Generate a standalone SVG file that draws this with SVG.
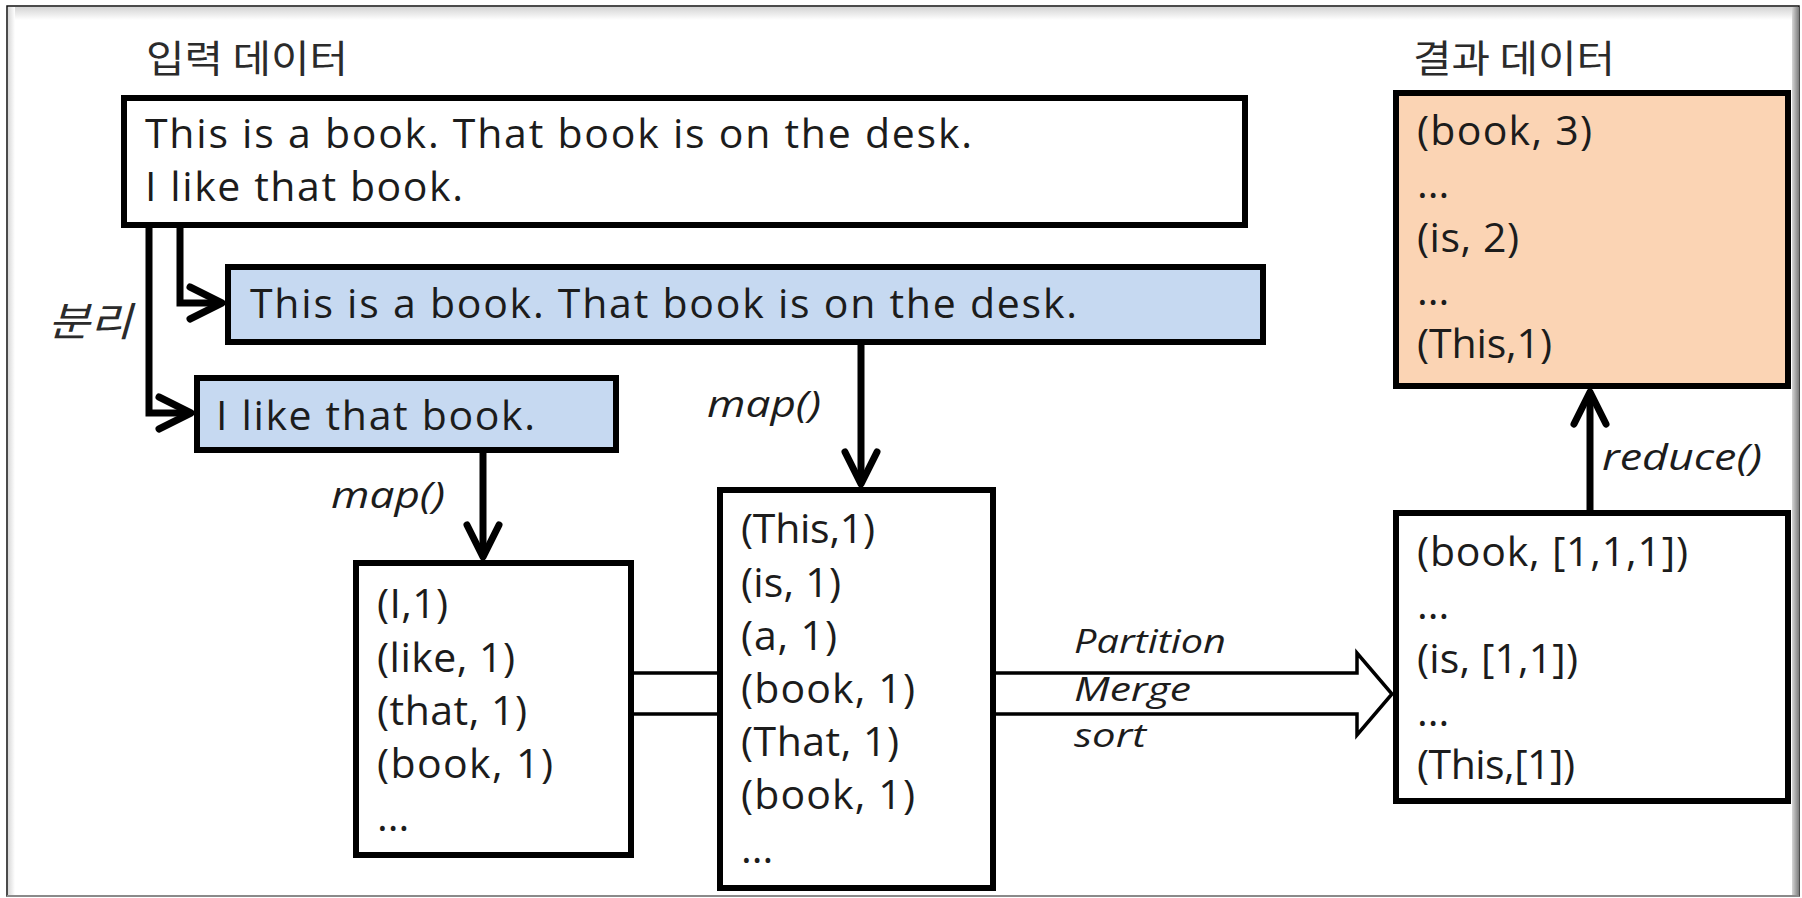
<svg xmlns="http://www.w3.org/2000/svg" width="1802" height="898" viewBox="0 0 1802 898">
  <defs>
    <style>
      .t { font-family: 'Open Sans', 'Noto Sans', 'Liberation Sans', sans-serif; font-size: 41px; fill: #1c1c1c; }
      .lab { font-family: 'Open Sans', 'Noto Sans', 'Liberation Sans', sans-serif; font-style: italic; font-size: 36px; fill: #1c1c1c; }
      .step { font-size: 33px; }
      .ko { font-family: 'Noto Sans CJK KR', sans-serif; font-size: 38px; fill: #2b2b2b; }
      .ko-i { font-family: 'Noto Sans CJK KR', sans-serif; font-size: 40px; font-style: italic; fill: #2b2b2b; }
      .box { stroke: #000; stroke-width: 6; }
      .plain { fill: #fff; }
      .split { fill: #c6d9f1; }
      .result { fill: #fbd4b4; }
      .conn { fill: none; stroke: #000; stroke-width: 7; stroke-linejoin: miter; }
      .shuffle { fill: #fff; stroke: #000; stroke-width: 3.5; stroke-linejoin: miter; }
    </style>
    <marker id="head" markerUnits="userSpaceOnUse" markerWidth="10" markerHeight="10" refX="0" refY="0" orient="auto" overflow="visible">
      <path d="M-32,-16 L0,0 L-32,16" fill="none" stroke="#000" stroke-width="7" stroke-linecap="round" stroke-linejoin="round"/>
    </marker>
    <linearGradient id="shadeTop" x1="0" y1="0" x2="0" y2="1">
      <stop offset="0" stop-color="#d4d4d4"/>
      <stop offset="1" stop-color="#ffffff"/>
    </linearGradient>
    <linearGradient id="shadeLeft" x1="0" y1="0" x2="1" y2="0">
      <stop offset="0" stop-color="#d8d8d8"/>
      <stop offset="1" stop-color="#ffffff"/>
    </linearGradient>
    <linearGradient id="shadeRight" x1="0" y1="0" x2="1" y2="0">
      <stop offset="0" stop-color="#d6d6d6"/>
      <stop offset="1" stop-color="#7c7c7c"/>
    </linearGradient>
  </defs>

  <!-- page frame -->
  <rect x="0" y="0" width="1802" height="898" fill="#fff"/>
  <rect x="7" y="6" width="1792" height="890" fill="#fff" stroke="#111" stroke-width="1.5"/>
  <rect x="8" y="7" width="1790" height="13" fill="url(#shadeTop)"/>
  <rect x="8" y="7" width="7" height="888" fill="url(#shadeLeft)"/>
  <rect x="1792" y="7" width="7" height="888" fill="url(#shadeRight)"/>
  <line x1="7" y1="896" x2="1799" y2="896" stroke="#8a8a8a" stroke-width="2"/>

  <!-- section headings -->
  <text class="ko" x="146" y="72" textLength="202" lengthAdjust="spacingAndGlyphs">입력 데이터</text>
  <text class="ko" x="1413" y="72" textLength="202" lengthAdjust="spacingAndGlyphs">결과 데이터</text>

  <!-- connectors -->
  <g id="connectors">
    <polygon class="shuffle" points="631,673 1357,673 1357,653 1392,694 1357,735 1357,714 631,714"/>
    <path class="conn" d="M180,226 V303 H222" marker-end="url(#head)"/>
    <path class="conn" d="M149,226 V413 H191" marker-end="url(#head)"/>
    <path class="conn" d="M483,452 V557" marker-end="url(#head)"/>
    <path class="conn" d="M861,344 V484" marker-end="url(#head)"/>
    <path class="conn" d="M1590,512 V392" marker-end="url(#head)"/>
    <text class="ko-i" x="48" y="336" textLength="84" lengthAdjust="spacingAndGlyphs">분리</text>
    <text class="lab" x="707" y="417" textLength="114" lengthAdjust="spacingAndGlyphs">map()</text>
    <text class="lab" x="331" y="508" textLength="114" lengthAdjust="spacingAndGlyphs">map()</text>
    <text class="lab" x="1602" y="470" textLength="160" lengthAdjust="spacingAndGlyphs">reduce()</text>
    <text class="lab step" x="1074" y="653" textLength="152" lengthAdjust="spacingAndGlyphs">Partition</text>
    <text class="lab step" x="1074" y="701" textLength="117" lengthAdjust="spacingAndGlyphs">Merge</text>
    <text class="lab step" x="1074" y="747" textLength="72" lengthAdjust="spacingAndGlyphs">sort</text>
  </g>

  <!-- input data -->
  <g id="input">
    <rect class="box plain" x="124" y="98" width="1121" height="127"/>
    <text class="t" x="145" y="148" textLength="827" lengthAdjust="spacing">This is a book. That book is on the desk.</text>
    <text class="t" x="145" y="201" textLength="318" lengthAdjust="spacing">I like that book.</text>
  </g>

  <!-- split 1 -->
  <g id="split1">
    <rect class="box split" x="228" y="267" width="1035" height="75"/>
    <text class="t" x="250" y="318" textLength="827" lengthAdjust="spacing">This is a book. That book is on the desk.</text>
  </g>

  <!-- split 2 -->
  <g id="split2">
    <rect class="box split" x="197" y="378" width="419" height="72"/>
    <text class="t" x="216" y="430" textLength="319" lengthAdjust="spacing">I like that book.</text>
  </g>

  <!-- map output of split 2 -->
  <g id="map2">
    <rect class="box plain" x="356" y="563" width="275" height="292"/>
    <text class="t" x="377" y="618" textLength="71" lengthAdjust="spacing">(I,1)</text>
    <text class="t" x="377" y="672" textLength="138" lengthAdjust="spacing">(like, 1)</text>
    <text class="t" x="377" y="725" textLength="150" lengthAdjust="spacing">(that, 1)</text>
    <text class="t" x="377" y="778" textLength="176" lengthAdjust="spacing">(book, 1)</text>
    <text class="t" x="377" y="831">...</text>
  </g>

  <!-- map output of split 1 -->
  <g id="map1">
    <rect class="box plain" x="720" y="490" width="273" height="398"/>
    <text class="t" x="741" y="543" textLength="134" lengthAdjust="spacing">(This,1)</text>
    <text class="t" x="741" y="597" textLength="100" lengthAdjust="spacing">(is, 1)</text>
    <text class="t" x="741" y="650" textLength="96" lengthAdjust="spacing">(a, 1)</text>
    <text class="t" x="741" y="703" textLength="174" lengthAdjust="spacing">(book, 1)</text>
    <text class="t" x="741" y="756" textLength="158" lengthAdjust="spacing">(That, 1)</text>
    <text class="t" x="741" y="809" textLength="174" lengthAdjust="spacing">(book, 1)</text>
    <text class="t" x="741" y="863">...</text>
  </g>

  <!-- grouped values -->
  <g id="grouped">
    <rect class="box plain" x="1396" y="513" width="392" height="288"/>
    <text class="t" x="1417" y="566" textLength="271" lengthAdjust="spacing">(book, [1,1,1])</text>
    <text class="t" x="1417" y="619">...</text>
    <text class="t" x="1417" y="673" textLength="161" lengthAdjust="spacing">(is, [1,1])</text>
    <text class="t" x="1417" y="726">...</text>
    <text class="t" x="1417" y="779" textLength="158" lengthAdjust="spacing">(This,[1])</text>
  </g>

  <!-- result data -->
  <g id="result">
    <rect class="box result" x="1396" y="93" width="392" height="293"/>
    <text class="t" x="1417" y="145" textLength="175" lengthAdjust="spacing">(book, 3)</text>
    <text class="t" x="1417" y="198">...</text>
    <text class="t" x="1417" y="252" textLength="102" lengthAdjust="spacing">(is, 2)</text>
    <text class="t" x="1417" y="305">...</text>
    <text class="t" x="1417" y="358" textLength="135" lengthAdjust="spacing">(This,1)</text>
  </g>
</svg>
